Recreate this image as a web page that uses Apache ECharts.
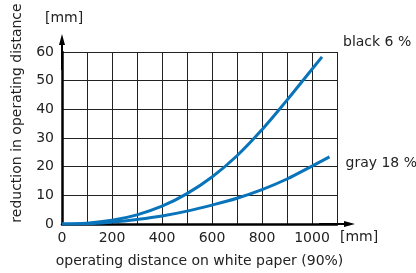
<!DOCTYPE html>
<html lang="en">
    <head>
        <meta charset="UTF-8">
        <title>operating distance reduction</title>
        <script src="https://cdn.jsdelivr.net/npm/echarts@6/dist/echarts.min.js"></script>
        <style>
            html, body { margin: 0; padding: 0; background: #fff; }
            #chart { width: 416px; height: 273px; }
        </style>
    </head>

    <body>
        <div id="chart"></div>

        <script>
            // curve data: [operating distance mm, reduction mm]
            var blackSeries = [[0, 0], [100, 0.3], [200, 1.3], [300, 3.2], [400, 6.2], [500, 10.6],
                [600, 16.4], [700, 23.8], [800, 32.9], [900, 43.2], [1000, 54], [1040, 58.3]];
            var graySeries = [[0, 0], [100, 0.1], [200, 0.7], [300, 1.6], [400, 2.8], [500, 4.5],
                [600, 6.6], [700, 9.0], [800, 12.0], [900, 15.7], [1000, 20.2], [1070, 23.4]];
            var seriesNames = ['black 6 %', 'gray 18 %'];
            var xTickLabels = [0, 200, 400, 600, 800, 1000];
            var yTickLabels = [0, 10, 20, 30, 40, 50, 60];

            var font = 'DejaVu Sans';
            var textColor = '#222';
            var blue = '#0a74ba';
            // arrow head with a stem, so the axis line runs on past the grid
            var arrow = 'path://M3,0 L6,11 L4,11 L4,36 L2,36 L2,11 L0,11 Z';

            var chart = echarts.init(document.getElementById('chart'), null, { renderer: 'canvas' });

            chart.setOption({
                animation: false,
                backgroundColor: '#fff',
                textStyle: { fontFamily: font, color: textColor },
                title: [
                    { text: '[mm]', left: 45, top: 11, padding: 0,
                      textStyle: { fontFamily: font, fontSize: 14, fontWeight: 'normal', color: textColor } },
                    { text: '[mm]', left: 340, top: 230, padding: 0,
                      textStyle: { fontFamily: font, fontSize: 14, fontWeight: 'normal', color: textColor } }
                ],
                grid: { left: 62, right: 79, top: 52, bottom: 49 },
                xAxis: {
                    type: 'value',
                    min: 0,
                    max: 1100,
                    interval: 100,
                    name: 'operating distance on white paper (90%)',
                    nameLocation: 'middle',
                    nameGap: 30,
                    nameTextStyle: { fontFamily: font, fontSize: 14, color: textColor },
                    axisLine: {
                        show: true,
                        symbol: ['none', arrow],
                        symbolSize: [6, 36],
                        lineStyle: { color: '#000', width: 2.5 }
                    },
                    axisTick: { show: false },
                    axisLabel: {
                        fontFamily: font, fontSize: 14, color: textColor, margin: 7,
                        formatter: function (v) { return xTickLabels.indexOf(v) >= 0 ? String(v) : ''; }
                    },
                    splitLine: { show: true, lineStyle: { color: '#222', width: 1 } }
                },
                yAxis: {
                    type: 'value',
                    min: 0,
                    max: 60,
                    interval: 10,
                    name: 'reduction in operating distance',
                    nameLocation: 'middle',
                    nameRotate: 90,
                    nameGap: 38,
                    nameMoveOverlap: false,
                    nameTextStyle: { fontFamily: font, fontSize: 14, color: textColor, padding: [0, 0, 0, 50] },
                    axisLine: {
                        show: true,
                        symbol: ['none', arrow],
                        symbolSize: [6, 36],
                        lineStyle: { color: '#000', width: 2.5 }
                    },
                    axisTick: { show: false },
                    axisLabel: {
                        fontFamily: font, fontSize: 14, color: textColor, margin: 8,
                        formatter: function (v) { return yTickLabels.indexOf(v) >= 0 ? String(v) : ''; }
                    },
                    splitLine: { show: true, lineStyle: { color: '#222', width: 1 } }
                },
                series: [
                    {
                        name: seriesNames[0],
                        type: 'line',
                        data: blackSeries,
                        smooth: 0.4,
                        showSymbol: false,
                        lineStyle: { color: blue, width: 3 },
                        endLabel: {
                            show: true, formatter: '{a}', distance: 0, offset: [21, -15],
                            fontFamily: font, fontSize: 14, color: textColor
                        }
                    },
                    {
                        name: seriesNames[1],
                        type: 'line',
                        data: graySeries,
                        smooth: 0.4,
                        showSymbol: false,
                        lineStyle: { color: blue, width: 3 },
                        endLabel: {
                            show: true, formatter: '{a}', distance: 0, offset: [16, 6],
                            fontFamily: font, fontSize: 14, color: textColor
                        }
                    }
                ]
            });
        </script>
    </body>

</html>
